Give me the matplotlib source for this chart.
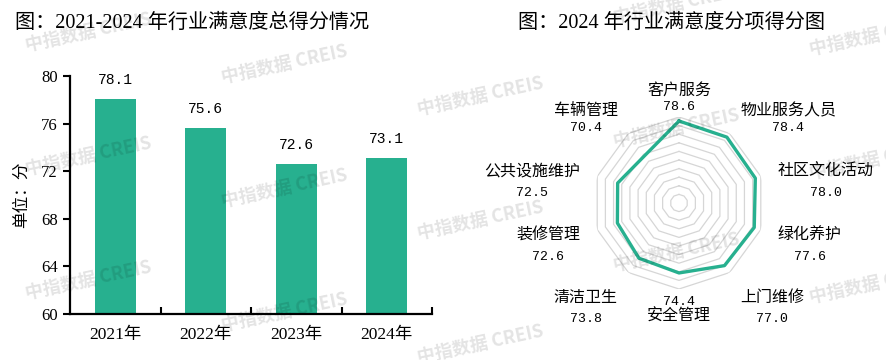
import numpy as np
import matplotlib
matplotlib.use("Agg")
import matplotlib.pyplot as plt

plt.rcParams['font.family'] = ['Liberation Serif', 'Noto Sans CJK SC', 'DejaVu Sans']

# data
years = ["2021年", "2022年", "2023年", "2024年"]
scores = [78.1, 75.6, 72.6, 73.1]

items = ["客户服务", "物业服务人员", "社区文化活动", "绿化养护", "上门维修",
         "安全管理", "清洁卫生", "装修管理", "公共设施维护", "车辆管理"]
item_scores = [78.6, 78.4, 78.0, 77.6, 77.0, 74.4, 73.8, 72.6, 72.5, 70.4]

green = '#27b08f'
cjk = ['Noto Sans CJK SC', 'DejaVu Sans']
mono = ['Liberation Mono', 'DejaVu Sans Mono']

fig = plt.figure(figsize=(8.87, 3.6), dpi=100)

# ---------- left: bar chart ----------
ax = fig.add_axes([70/887, 1-313.5/360, (432-70)/887, (313.5-76.3)/360])
x = np.arange(len(years))
ax.bar(x, scores, width=0.45, color=green, zorder=2)
ax.set_xlim(-0.5, len(years)-0.5)
ax.set_ylim(60, 80)
ax.set_yticks([60, 64, 68, 72, 76, 80])
ax.tick_params(axis='y', direction='out', length=5, width=1.5, labelsize=12, pad=4)
ax.set_xticks(x + 0.5)
ax.set_xticklabels([])
ax.tick_params(axis='x', which='major', direction='in', length=5, width=1.5)
ax.set_xticks(x, minor=True)
ax.set_xticklabels(years, minor=True, fontsize=12.5)
ax.tick_params(axis='x', which='minor', length=0, pad=10)
for s in ['top', 'right']:
    ax.spines[s].set_visible(False)
for s in ['left', 'bottom']:
    ax.spines[s].set_linewidth(1.6)
ax.set_ylabel("单位：分", family=cjk, fontsize=12, labelpad=8)
for xi, v in zip(x, scores):
    ax.annotate(f"{v:.1f}", xy=(xi, v), xytext=(0, 19), textcoords='offset pixels',
                ha='center', va='center', family=mono, fontsize=10.5)

fig.text(15/887, 1-23/360, "图：2021-2024 年行业满意度总得分情况", fontsize=14.5,
         ha='left', va='center')

# ---------- right: radar ----------
cx, cy, R = 679, 203, 86
rax = fig.add_axes([(cx-R)/887, (360-cy-R)/360, 2*R/887, 2*R/360], projection='polar')
rax.set_theta_zero_location('N')
rax.set_theta_direction(-1)
rax.set_ylim(50, 80)
rax.grid(False)
rax.set_xticks([])
rax.set_yticks([])
rax.spines['polar'].set_visible(False)
rax.patch.set_alpha(0)

n = len(items)
theta = np.arange(n) * 2*np.pi / n
th_closed = np.append(theta, theta[0])
for r in np.arange(53, 80.1, 3):
    rax.plot(th_closed, np.full(n+1, r), color='#d6d6d6', lw=0.9, zorder=1)
vals = np.array(item_scores)
rax.plot(th_closed, np.append(vals, vals[0]), color=green, lw=2.4, zorder=3)

# label offsets in pixels (+up), by distance from the top item
name_dy = {0: 9, 1: 8, 2: 0, 3: 0, 4: -10, 5: -9}
val_dy = {0: -8, 1: -9, 2: -22, 3: -22, 4: -32, 5: 5}
for i, (name, v) in enumerate(zip(items, item_scores)):
    t = theta[i]
    s, c = np.sin(t), np.cos(t)
    k = min(i, n - i)
    if s > 0.1:
        ha = 'left'
    elif s < -0.1:
        ha = 'right'
    else:
        ha = 'center'
    nt = rax.annotate(name, xy=(t, 80), xytext=(18*s, 18*c + name_dy[k]),
                      textcoords='offset pixels', ha=ha, va='center',
                      family=cjk, fontsize=11.5, annotation_clip=False)
    rax.annotate(f"{v:.1f}", xy=(0.5, 0.5), xycoords=nt,
                 xytext=(0, val_dy[k] - name_dy[k]), textcoords='offset pixels',
                 ha='center', va='center', family=mono, fontsize=9.5,
                 annotation_clip=False)

fig.text(672/887, 1-23/360, "图：2024 年行业满意度分项得分图", fontsize=14.5,
         ha='center', va='center')

# watermark
for i in range(5):
    for j in range(3):
        wx = 88 + 196*i
        wy = (32 + 32*i) % 124 + 124*j
        fig.text(wx/887, 1-wy/360, "中指数据 CREIS", family=cjk, fontsize=13,
                 fontweight='bold', color='black', alpha=0.11, rotation=12,
                 ha='center', va='center', rotation_mode='anchor')

fig.savefig("out.png", dpi=100)
